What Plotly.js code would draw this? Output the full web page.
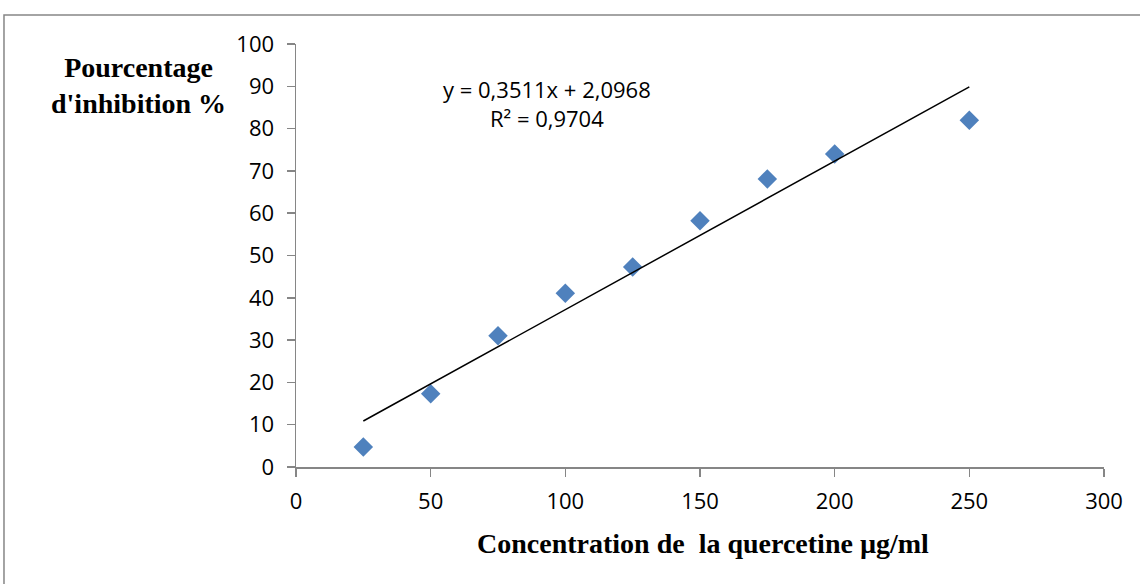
<!DOCTYPE html>
<html>
<head>
<meta charset="utf-8">
<script src="https://cdn.plot.ly/plotly-3.0.1.min.js"></script>
<style>html,body{margin:0;padding:0;background:#fff}#chart{width:1140px;height:584px}</style>
</head>
<body>
<div id="chart"></div>
<script>
const concentrations = [25, 50, 75, 100, 125, 150, 175, 200, 250];
const inhibition = [4.7, 17.3, 31.0, 41.1, 47.3, 58.2, 68.1, 74.0, 82.0];
const trendX = [25, 250];
const trendY = [10.87, 89.87];
const xTicks = [0, 50, 100, 150, 200, 250, 300];
const yTicks = [0, 10, 20, 30, 40, 50, 60, 70, 80, 90, 100];
const equationText = "y = 0,3511x + 2,0968<br>R² = 0,9704";
const xTitle = "Concentration de  la quercetine µg/ml";
const yTitle = "Pourcentage<br>d'inhibition %";

const axisColor = "#868686";
const tickFont = {family: "Open Sans, sans-serif", size: 22, color: "#000"};
const titleFont = {family: "Liberation Serif, Times New Roman, serif", size: 28, color: "#000", weight: "bold"};

const traces = [
  {
    x: concentrations, y: inhibition, type: "scatter", mode: "markers",
    marker: {symbol: "diamond", size: 15, color: "#4F81BD", line: {width: 0}},
    hoverinfo: "x+y"
  },
  {
    x: trendX, y: trendY, type: "scatter", mode: "lines",
    line: {color: "#000", width: 1.5}, hoverinfo: "skip"
  }
];

const layout = {
  width: 1140, height: 584,
  margin: {l: 296, r: 36, t: 44, b: 117},
  paper_bgcolor: "#fff", plot_bgcolor: "#fff",
  showlegend: false,
  xaxis: {
    range: [0, 300], tickvals: xTicks, ticktext: xTicks.map(String),
    showgrid: false, zeroline: false, showline: true, linecolor: axisColor, linewidth: 1.5,
    ticks: "outside", ticklen: 8, tickcolor: axisColor, tickwidth: 1.5,
    ticklabelstandoff: 6, tickfont: tickFont, fixedrange: true
  },
  yaxis: {
    range: [0, 100], tickvals: yTicks, ticktext: yTicks.map(String),
    showgrid: false, zeroline: false, showline: true, linecolor: axisColor, linewidth: 1.5,
    ticks: "outside", ticklen: 8, tickcolor: axisColor, tickwidth: 1.5,
    ticklabelstandoff: 8, tickfont: tickFont, fixedrange: true
  },
  annotations: [
    {
      xref: "x", yref: "y", x: 93.2, y: 86, xanchor: "center", yanchor: "middle",
      text: equationText, showarrow: false, align: "center",
      font: {family: "Open Sans, sans-serif", size: 22, color: "#000"}
    },
    {
      xref: "paper", yref: "paper", x: -0.195, y: 0.903, xanchor: "center", yanchor: "middle",
      text: yTitle, showarrow: false, align: "center", font: titleFont
    },
    {
      xref: "paper", yref: "paper", x: 0.5035, y: -0.18, xanchor: "center", yanchor: "middle",
      text: xTitle, showarrow: false, align: "center", font: titleFont
    }
  ],
  shapes: [
    {type: "rect", xref: "paper", yref: "paper", x0: -0.3614, x1: 1.05, y0: -0.3, y1: 1.0686,
     line: {color: axisColor, width: 1.5}, fillcolor: "rgba(0,0,0,0)", layer: "below"}
  ]
};

Plotly.newPlot("chart", traces, layout, {displayModeBar: false, staticPlot: true});
</script>
</body>
</html>
